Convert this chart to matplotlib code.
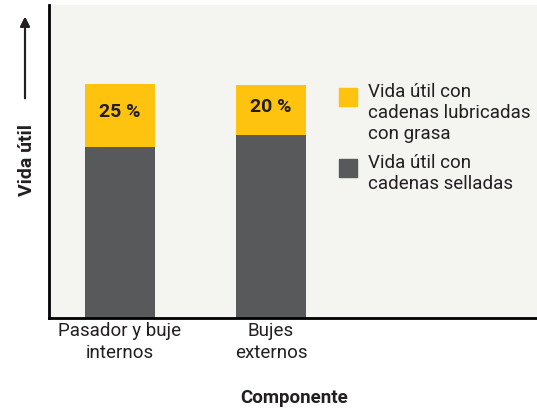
import matplotlib
matplotlib.use("Agg")
import matplotlib.pyplot as plt
from matplotlib.patches import Rectangle

categories = ["Pasador y buje\ninternos", "Bujes\nexternos"]
sealed = [171, 183]
grease = [63, 50]
pct_labels = ["25 %", "20 %"]
legend_labels = ["Vida útil con\ncadenas lubricadas\ncon grasa", "Vida útil con\ncadenas selladas"]

plt.rcParams['font.family'] = ["Roboto", "DejaVu Sans"]

YEL = "#FDC30F"
GRY = "#58595B"
BG = "#F4F4F0"
TXT = "#231F20"

W, H = 537, 412
fig = plt.figure(figsize=(W/100, H/100), dpi=100)
ax = fig.add_axes([49/W, (H-318)/H, 1-49/W, (318-5)/H])
ax.set_facecolor(BG)

x = [0, 1]
width = 0.464
ax.bar(x, sealed, width=width, color=GRY)
ax.bar(x, grease, width=width, bottom=sealed, color=YEL)
for xi, s, g, lab in zip(x, sealed, grease, pct_labels):
    ax.text(xi, s + g*0.56, lab, ha="center", va="center", fontsize=14,
            fontweight="bold", color=TXT)

ax.set_xlim(-71/151, (537-120)/151)
ax.set_ylim(0, 313)
ax.set_xticks(x)
ax.set_xticklabels(categories, fontsize=13.5, color=TXT, linespacing=1.3)
ax.tick_params(axis="x", length=0, pad=3)
ax.set_yticks([])
for sp in ["top", "right"]:
    ax.spines[sp].set_visible(False)
ax.spines["left"].set_linewidth(2)
ax.spines["bottom"].set_linewidth(2)

ax.set_xlabel("Componente", fontsize=13.5, fontweight="bold", color=TXT)
ax.xaxis.set_label_coords((294-49)/(W-49), -(389-318)/313)

# legend (manual, figure pixels)
legend_colors = [YEL, GRY]
legend_tops = [88, 159]
for col, top, lab in zip(legend_colors, legend_tops, legend_labels):
    fig.add_artist(Rectangle((339/W, 1-(top+18)/H), 18/W, 18/H, color=col,
                             transform=fig.transFigure))
    fig.text(368/W, 1-(top-5)/H, lab, ha="left", va="top", fontsize=13.5,
             color=TXT, linespacing=1.22)

# y label and arrow
fig.text(27/W, 1-160/H, "Vida útil", rotation=90, ha="center", va="center",
         fontsize=14, fontweight="bold", color=TXT)
fig.add_artist(plt.annotate("", xy=(25/W, 1-14/H), xytext=(25/W, 1-101/H),
                            xycoords="figure fraction", textcoords="figure fraction",
                            arrowprops=dict(arrowstyle="-|>", color=TXT, lw=1.5,
                                            mutation_scale=14)))

fig.savefig("out.png", dpi=100, facecolor="white")
